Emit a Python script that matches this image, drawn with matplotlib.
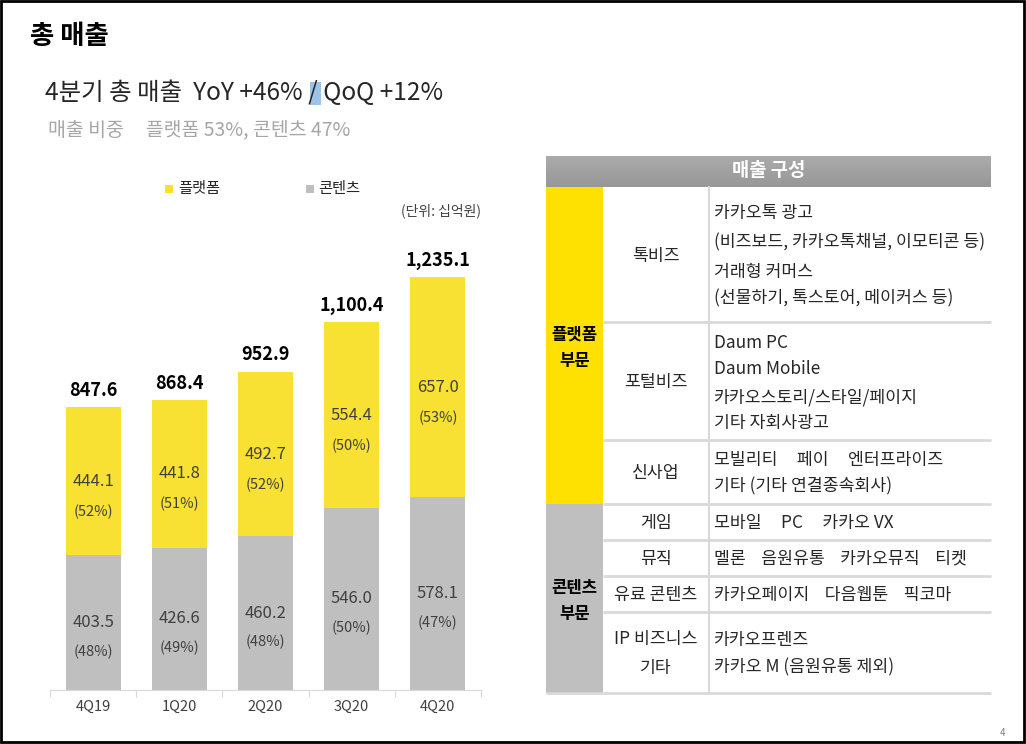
import numpy as np
import matplotlib
matplotlib.use('Agg')
import matplotlib.pyplot as plt
from matplotlib.patches import Rectangle
from matplotlib.colors import LinearSegmentedColormap

plt.rcParams['font.family'] = ['Noto Sans CJK KR', 'DejaVu Sans']

# 데이터
분기 = ['4Q19', '1Q20', '2Q20', '3Q20', '4Q20']
플랫폼 = [444.1, 441.8, 492.7, 554.4, 657.0]
콘텐츠 = [403.5, 426.6, 460.2, 546.0, 578.1]
합계 = [847.6, 868.4, 952.9, 1100.4, 1235.1]
플랫폼_비중 = ['(52%)', '(51%)', '(52%)', '(50%)', '(53%)']
콘텐츠_비중 = ['(48%)', '(49%)', '(48%)', '(50%)', '(47%)']

표_부문 = ['플랫폼\n부문', '콘텐츠\n부문']
표_항목 = ['톡비즈', '포털비즈', '신사업', '게임', '뮤직', '유료 콘텐츠', 'IP 비즈니스\n기타']
표_내용 = [
    ['카카오톡 광고', '(비즈보드, 카카오톡채널, 이모티콘 등)', '거래형 커머스', '(선물하기, 톡스토어, 메이커스 등)'],
    ['Daum PC', 'Daum Mobile', '카카오스토리/스타일/페이지', '기타 자회사광고'],
    ['모빌리티     페이     엔터프라이즈', '기타 (기타 연결종속회사)'],
    ['모바일     PC     카카오 VX'],
    ['멜론    음원유통    카카오뮤직    티켓'],
    ['카카오페이지    다음웹툰    픽코마'],
    ['카카오프렌즈', '카카오 M (음원유통 제외)'],
]

노랑 = '#F9E133'
회색 = '#BFBFBF'
W, H = 1026, 744

fig = plt.figure(figsize=(W / 100, H / 100), dpi=100)

# 배경용 축 (픽셀 좌표)
bg = fig.add_axes([0, 0, 1, 1])
bg.axis('off')

bg.add_patch(Rectangle((1, 1), W - 3, H - 3, fill=False, ec='black', lw=2))
bg.text(30, 37, '총 매출', fontsize=19, fontweight='bold', va='center', ha='left')
bg.add_patch(Rectangle((310, 82), 11, 23, color='#9DC3E6', lw=0))
bg.text(45, 93, '4분기 총 매출  YoY +46% / QoQ +12%', fontsize=17.6, color='#262626',
        va='center', ha='left')
bg.text(48, 130, '매출 비중     플랫폼 53%, 콘텐츠 47%', fontsize=14, color='#A6A6A6',
        va='center', ha='left')

# 범례
bg.add_patch(Rectangle((165, 185), 8, 8, color=노랑, lw=0))
bg.text(178, 189, '플랫폼', fontsize=11, va='center', ha='left', color='#262626')
bg.add_patch(Rectangle((306, 185), 8, 8, color=회색, lw=0))
bg.text(318, 189, '콘텐츠', fontsize=11, va='center', ha='left', color='#262626')
bg.text(481, 211, '(단위: 십억원)', fontsize=10, va='center', ha='right', color='#404040')
bg.text(1003, 733, '4', fontsize=7, va='center', ha='center', color='#808080')

# 표
x0, x1, x2, x3 = 546, 603, 709, 991
grad = np.linspace(0, 1, 50).reshape(-1, 1)
bg.imshow(grad, extent=(x0, x3, 187, 156),
          cmap=LinearSegmentedColormap.from_list('g', ['#ABABAB', '#979797']),
          aspect='auto', zorder=1)
bg.set_xlim(0, W)
bg.set_ylim(H, 0)
bg.text((x0 + x3) / 2, 171, '매출 구성', fontsize=13.5, fontweight='bold', color='white',
        va='center', ha='center', zorder=3)

경계 = [187, 322, 440, 504, 540, 576, 612, 693]
bg.add_patch(Rectangle((x0, 187), x1 - x0, 504 - 187, color='#FFE100', lw=0))
bg.add_patch(Rectangle((x0, 504), x1 - x0, 693 - 504, color=회색, lw=0))
bg.text((x0 + x1) / 2, 348, 표_부문[0], fontsize=12, fontweight='bold', va='center',
        ha='center', linespacing=1.6)
bg.text((x0 + x1) / 2, 601, 표_부문[1], fontsize=12, fontweight='bold', va='center',
        ha='center', linespacing=1.6)
for y in 경계[1:]:
    bg.plot([x1, x3], [y, y], color='#D9D9D9', lw=2, solid_capstyle='butt')
bg.plot([x0, x1], [693, 693], color='#D9D9D9', lw=2, solid_capstyle='butt')
bg.plot([x2, x2], [187, 693], color='#D9D9D9', lw=1.5)

for i, 항목 in enumerate(표_항목):
    top, bot = 경계[i], 경계[i + 1]
    mid = (top + bot) / 2 + 1
    bg.text((x1 + x2) / 2, mid, 항목, fontsize=12.4, va='center', ha='center',
            color='#262626', linespacing=1.75)
    줄 = 표_내용[i]
    if i == 0:
        ys = [213, 242, 272, 298]
    elif i == 1:
        ys = [343, 369, 397, 423]
    else:
        ys = [mid + (k - (len(줄) - 1) / 2) * 27 for k in range(len(줄))]
    for y, s in zip(ys, 줄):
        bg.text(714, y, s, fontsize=12.4, va='center', ha='left', color='#262626')

# 막대 차트
ax = fig.add_axes([50 / W, (H - 690) / H, 431 / W, 490 / H])
x = np.arange(len(분기))
ax.bar(x, 콘텐츠, width=0.64, color=회색, zorder=2)
ax.bar(x, 플랫폼, bottom=콘텐츠, width=0.64, color=노랑, zorder=2)
ax.set_xlim(-0.5, 4.5)
ax.set_ylim(0, 490 / 0.334)
ax.patch.set_alpha(0)

for i in range(len(분기)):
    ax.text(x[i], 합계[i] + 22, f'{합계[i]:,.1f}', ha='center', va='bottom',
            fontsize=13, fontweight='bold', color='black')
    ym = 콘텐츠[i] + 플랫폼[i] / 2
    ax.text(x[i], ym, f'{플랫폼[i]:.1f}', ha='center', va='center', fontsize=12, color='#404040')
    ax.annotate(플랫폼_비중[i], (x[i], ym), xytext=(0, -22), textcoords='offset points',
                ha='center', va='center', fontsize=10.5, color='#404040')
    yc = 콘텐츠[i] / 2
    ax.text(x[i], yc, f'{콘텐츠[i]:.1f}', ha='center', va='center', fontsize=12, color='#404040')
    ax.annotate(콘텐츠_비중[i], (x[i], yc), xytext=(0, -21), textcoords='offset points',
                ha='center', va='center', fontsize=10.5, color='#404040')

for s in ['top', 'right', 'left']:
    ax.spines[s].set_visible(False)
ax.spines['bottom'].set_color('#D9D9D9')
ax.set_yticks([])
ax.set_xticks(np.arange(-0.5, 5, 1))
ax.set_xticklabels([])
ax.tick_params(axis='x', which='major', length=5, color='#D9D9D9')
ax.set_xticks(x, minor=True)
ax.set_xticklabels(분기, minor=True)
ax.tick_params(axis='x', which='minor', length=0, pad=7, labelsize=10.5, labelcolor='#404040')

fig.savefig('out.png', dpi=100)
